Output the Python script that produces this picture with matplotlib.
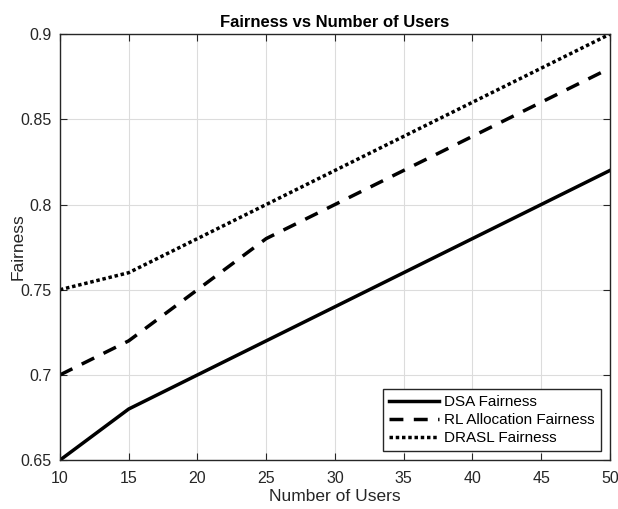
import numpy as np
import matplotlib
matplotlib.use("Agg")
import matplotlib.pyplot as plt

plt.rcParams['font.family'] = ['Liberation Sans', 'DejaVu Sans']

users = [10, 15, 20, 25, 30, 35, 40, 45, 50]
dsa = [0.65, 0.68, 0.70, 0.72, 0.74, 0.76, 0.78, 0.80, 0.82]
rl = [0.70, 0.72, 0.75, 0.78, 0.80, 0.82, 0.84, 0.86, 0.88]
drasl = [0.75, 0.76, 0.78, 0.80, 0.82, 0.84, 0.86, 0.88, 0.90]

fig = plt.figure(figsize=(6.18, 5.09), dpi=100)
ax = fig.add_axes([0.097, 0.096, 0.89, 0.837])

ax.plot(users, dsa, color='black', lw=2.5, ls='-', label='DSA Fairness')
ax.plot(users, rl, color='black', lw=2.5, ls=(0, (4, 3)), label='RL Allocation Fairness')
ax.plot(users, drasl, color='black', lw=2.5, ls=(0, (1, 0.8)), label='DRASL Fairness')

ax.set_xlim(10, 50)
ax.set_ylim(0.65, 0.9)
ax.set_xticks(np.arange(10, 51, 5))
ax.set_yticks([0.65, 0.7, 0.75, 0.8, 0.85, 0.9])
ax.set_yticklabels(['0.65', '0.7', '0.75', '0.8', '0.85', '0.9'])
ax.grid(True, color='#dcdcdc', lw=0.8)
ax.tick_params(direction='in', labelsize=11.5, colors='#262626', length=5, top=True, right=True)
ax.tick_params(axis='x', pad=8)
ax.tick_params(axis='y', pad=6)
for s in ax.spines.values():
    s.set_color('#262626')
    s.set_linewidth(1.0)

ax.set_xlabel('Number of Users', fontsize=12.5, color='#262626')
ax.set_ylabel('Fairness', fontsize=12.5, color='#262626')
ax.xaxis.set_label_coords(0.5, -0.068)
ax.yaxis.set_label_coords(-0.063, 0.5)
ax.set_title('Fairness vs Number of Users', fontsize=12, fontweight='bold', pad=5)

leg = ax.legend(loc='lower right', fontsize=11, fancybox=False, framealpha=1,
                edgecolor='#262626', handlelength=3.3, handletextpad=0.3,
                borderaxespad=0.6, labelspacing=0.25, borderpad=0.4)
leg.get_frame().set_linewidth(1.0)

fig.savefig('out.png', dpi=100)
